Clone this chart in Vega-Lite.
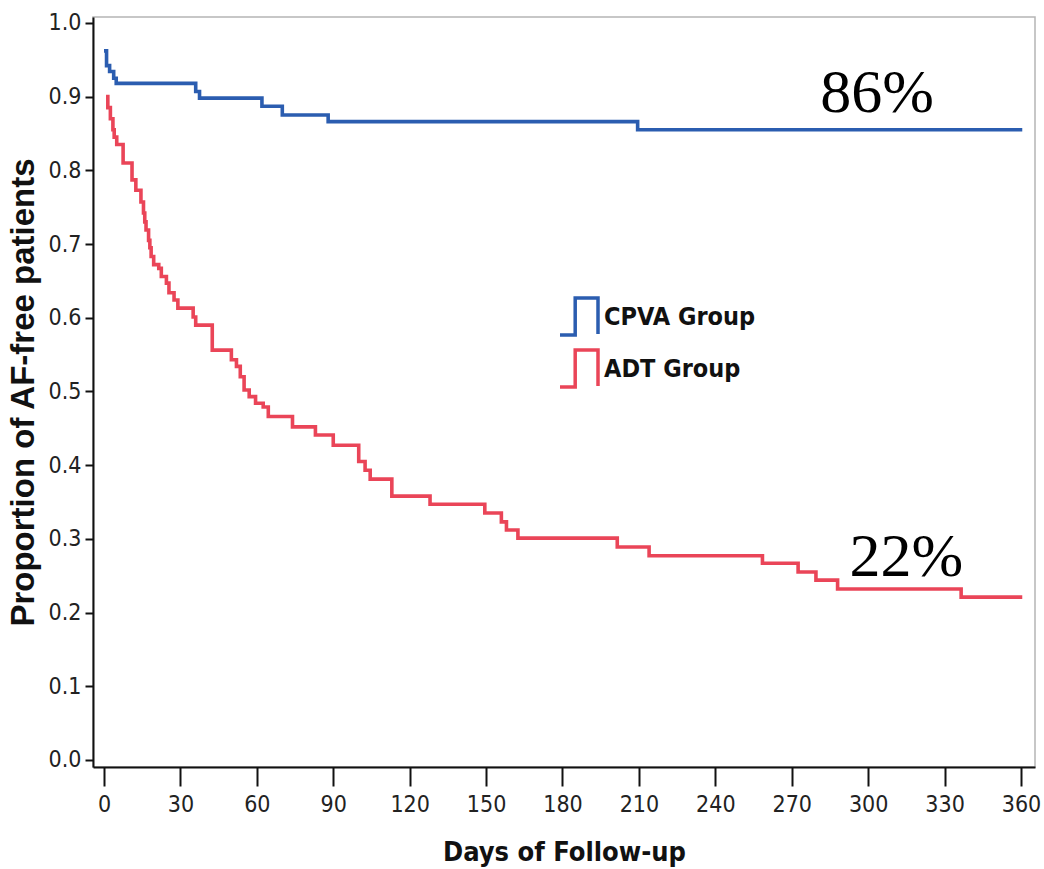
{
  "$schema": "https://vega.github.io/schema/vega-lite/v6.json",
  "width": 942,
  "height": 750,
  "autosize": {"type": "none"},
  "padding": {"left": 93, "top": 17, "right": 9, "bottom": 102},
  "background": "white",
  "view": {"stroke": "#b5b5b5", "strokeWidth": 1.5},
  "datasets": {
    "km": [
      {"group": "CPVA Group", "day": 0, "p": 0.962},
      {"group": "CPVA Group", "day": 1, "p": 0.942},
      {"group": "CPVA Group", "day": 2.2, "p": 0.934},
      {"group": "CPVA Group", "day": 3.8, "p": 0.925},
      {"group": "CPVA Group", "day": 4.8, "p": 0.918},
      {"group": "CPVA Group", "day": 36, "p": 0.907},
      {"group": "CPVA Group", "day": 37.5, "p": 0.898},
      {"group": "CPVA Group", "day": 62, "p": 0.887},
      {"group": "CPVA Group", "day": 70, "p": 0.875},
      {"group": "CPVA Group", "day": 88, "p": 0.866},
      {"group": "CPVA Group", "day": 209.5, "p": 0.855},
      {"group": "CPVA Group", "day": 360.5, "p": 0.855},
      {"group": "ADT Group", "day": 0.8, "p": 0.9},
      {"group": "ADT Group", "day": 1.5, "p": 0.885},
      {"group": "ADT Group", "day": 2.5, "p": 0.87},
      {"group": "ADT Group", "day": 3.5, "p": 0.855},
      {"group": "ADT Group", "day": 4, "p": 0.845},
      {"group": "ADT Group", "day": 5, "p": 0.835},
      {"group": "ADT Group", "day": 7.5, "p": 0.81},
      {"group": "ADT Group", "day": 11, "p": 0.787},
      {"group": "ADT Group", "day": 12.5, "p": 0.773},
      {"group": "ADT Group", "day": 14.5, "p": 0.757},
      {"group": "ADT Group", "day": 15.5, "p": 0.742},
      {"group": "ADT Group", "day": 16, "p": 0.73},
      {"group": "ADT Group", "day": 16.5, "p": 0.719},
      {"group": "ADT Group", "day": 17.5, "p": 0.705},
      {"group": "ADT Group", "day": 18, "p": 0.695},
      {"group": "ADT Group", "day": 18.5, "p": 0.683},
      {"group": "ADT Group", "day": 19.5, "p": 0.672},
      {"group": "ADT Group", "day": 21.5, "p": 0.667},
      {"group": "ADT Group", "day": 22.5, "p": 0.656},
      {"group": "ADT Group", "day": 24.5, "p": 0.647},
      {"group": "ADT Group", "day": 25.5, "p": 0.634},
      {"group": "ADT Group", "day": 27.5, "p": 0.624},
      {"group": "ADT Group", "day": 29, "p": 0.613},
      {"group": "ADT Group", "day": 35, "p": 0.601},
      {"group": "ADT Group", "day": 36, "p": 0.59},
      {"group": "ADT Group", "day": 42.5, "p": 0.556},
      {"group": "ADT Group", "day": 50, "p": 0.543},
      {"group": "ADT Group", "day": 52, "p": 0.534},
      {"group": "ADT Group", "day": 53.5, "p": 0.52},
      {"group": "ADT Group", "day": 55, "p": 0.502},
      {"group": "ADT Group", "day": 57, "p": 0.493},
      {"group": "ADT Group", "day": 59.5, "p": 0.484},
      {"group": "ADT Group", "day": 62.5, "p": 0.479},
      {"group": "ADT Group", "day": 64.5, "p": 0.466},
      {"group": "ADT Group", "day": 74, "p": 0.452},
      {"group": "ADT Group", "day": 83, "p": 0.441},
      {"group": "ADT Group", "day": 90, "p": 0.427},
      {"group": "ADT Group", "day": 100, "p": 0.405},
      {"group": "ADT Group", "day": 102.5, "p": 0.393},
      {"group": "ADT Group", "day": 104.5, "p": 0.381},
      {"group": "ADT Group", "day": 113, "p": 0.358},
      {"group": "ADT Group", "day": 128, "p": 0.347},
      {"group": "ADT Group", "day": 149.5, "p": 0.335},
      {"group": "ADT Group", "day": 156, "p": 0.323},
      {"group": "ADT Group", "day": 158, "p": 0.312},
      {"group": "ADT Group", "day": 162.5, "p": 0.301},
      {"group": "ADT Group", "day": 201.5, "p": 0.289},
      {"group": "ADT Group", "day": 214, "p": 0.277},
      {"group": "ADT Group", "day": 258.5, "p": 0.267},
      {"group": "ADT Group", "day": 272.5, "p": 0.255},
      {"group": "ADT Group", "day": 279.5, "p": 0.244},
      {"group": "ADT Group", "day": 288, "p": 0.232},
      {"group": "ADT Group", "day": 336.5, "p": 0.221},
      {"group": "ADT Group", "day": 360.5, "p": 0.221}
    ],
    "notes": [
      {"day": 303.5, "p": 0.879, "label": "86%"},
      {"day": 315, "p": 0.25, "label": "22%"}
    ]
  },
  "layer": [
    {
      "data": {"name": "km"},
      "mark": {"type": "line", "interpolate": "step-after", "strokeWidth": 3.6},
      "encoding": {
        "x": {
          "field": "day", "type": "quantitative",
          "scale": {"domain": [-4.32, 365.5], "nice": false, "zero": false},
          "axis": {
            "title": "Days of Follow-up",
            "values": [0, 30, 60, 90, 120, 150, 180, 210, 240, 270, 300, 330, 360],
            "grid": false,
            "domainColor": "#111", "domainWidth": 2,
            "tickColor": "#111", "tickWidth": 2, "tickSize": 19,
            "labelFont": "DejaVu Sans Condensed, sans-serif",
            "labelFontSize": 23, "labelColor": "#222", "labelPadding": 7,
            "titleFont": "DejaVu Sans Condensed, sans-serif",
            "titleFontSize": 27, "titleFontWeight": "bold", "titleColor": "#111",
            "titlePadding": 23
          }
        },
        "y": {
          "field": "p", "type": "quantitative",
          "scale": {"domain": [-0.0095, 1.008], "nice": false, "zero": false},
          "axis": {
            "title": "Proportion of AF-free patients",
            "values": [0, 0.1, 0.2, 0.3, 0.4, 0.5, 0.6, 0.7, 0.8, 0.9, 1.0],
            "format": ".1f",
            "grid": false,
            "domainColor": "#111", "domainWidth": 2,
            "tickColor": "#111", "tickWidth": 2, "tickSize": 8,
            "labelFont": "DejaVu Sans Condensed, sans-serif",
            "labelFontSize": 23, "labelColor": "#222", "labelPadding": 4,
            "titleFont": "Liberation Sans, Arial, sans-serif",
            "titleFontSize": 33, "titleFontWeight": "bold", "titleColor": "#111",
            "titlePadding": 8
          }
        },
        "color": {
          "field": "group", "type": "nominal",
          "scale": {"domain": ["CPVA Group", "ADT Group"], "range": ["#2b5db0", "#ea4558"]},
          "legend": {
            "title": null,
            "orient": "none",
            "legendX": 465,
            "legendY": 279,
            "padding": 0,
            "symbolType": "M-1,0.95L-0.2,0.95L-0.2,-1L1,-1L1,0.9",
            "symbolSize": 1444,
            "symbolStrokeWidth": 3.5,
            "symbolFillColor": "transparent",
            "rowPadding": 0,
            "labelOffset": 4,
            "labelLimit": 0,
            "labelFont": "DejaVu Sans Condensed, sans-serif",
            "labelFontSize": 25,
            "labelFontWeight": "bold",
            "labelColor": "#111"
          }
        }
      }
    },
    {
      "data": {"name": "notes"},
      "mark": {"type": "text", "font": "Liberation Serif, Times New Roman, serif", "fontSize": 62, "align": "center", "baseline": "alphabetic", "color": "#000"},
      "encoding": {
        "x": {"field": "day", "type": "quantitative"},
        "y": {"field": "p", "type": "quantitative"},
        "text": {"field": "label"}
      }
    }
  ]
}
